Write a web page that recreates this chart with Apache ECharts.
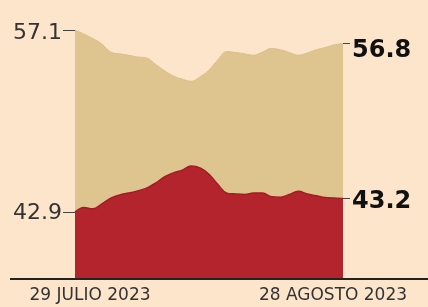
<!DOCTYPE html>
<html><head><meta charset="utf-8">
<script src="https://cdn.jsdelivr.net/npm/echarts@6/dist/echarts.min.js"></script>
<style>html,body{margin:0;padding:0;background:#fde5cc}#c{width:428px;height:307px}</style>
</head><body><div id="c"></div>
<script>
const dates = ['2023-07-29','2023-07-30','2023-07-31','2023-08-01','2023-08-02','2023-08-03','2023-08-04','2023-08-05','2023-08-06','2023-08-07','2023-08-08','2023-08-09','2023-08-10','2023-08-11','2023-08-12','2023-08-13','2023-08-14','2023-08-15','2023-08-16','2023-08-17','2023-08-18','2023-08-19','2023-08-20','2023-08-21','2023-08-22','2023-08-23','2023-08-24','2023-08-25','2023-08-26','2023-08-27','2023-08-28'];
const tanValues = [57.10,57.01,56.91,56.79,56.61,56.57,56.54,56.50,56.48,56.34,56.20,56.08,56.01,55.96,56.06,56.21,56.44,56.62,56.60,56.57,56.54,56.61,56.69,56.66,56.60,56.54,56.59,56.66,56.71,56.77,56.80];
const redValues = [42.90,43.00,42.97,43.08,43.21,43.28,43.32,43.37,43.43,43.54,43.68,43.77,43.83,43.92,43.88,43.74,43.51,43.32,43.30,43.29,43.32,43.32,43.24,43.23,43.29,43.36,43.30,43.26,43.22,43.21,43.20];
const xLabels = ['29 JULIO 2023', '28 AGOSTO 2023'];
const tanStart = 57.1, tanEnd = 56.8, redStart = 42.9, redEnd = 43.2;

const TAN_MAX = 57.322, TAN_MIN = 51.567;
const RED_MIN = 41.411, RED_MAX = 47.167;
const FONT = 'DejaVu Sans';

const chart = echarts.init(document.getElementById('c'), null, {renderer: 'canvas'});
function yAx(pos, min, max, val, bold, padTop) {
  return {
    type: 'value', position: pos, min: min, max: max,
    axisLine: {show: false}, splitLine: {show: false},
    axisTick: {show: true, customValues: [val], length: bold ? 7 : 12, lineStyle: {color: '#444', width: 1}},
    axisLabel: {show: true, customValues: [val], formatter: v => '{v|' + v.toFixed(1) + '}', margin: bold ? 9 : 13,
      rich: {v: {fontFamily: FONT, fontSize: bold ? 24 : 22, fontWeight: bold ? 'bold' : 'normal',
        color: bold ? '#111' : '#333', padding: [padTop, 0, 0, 0]}}}
  };
}
chart.setOption({
  backgroundColor: '#fde5cc',
  animation: false,
  grid: {left: 75, right: 85, top: 20, bottom: 28},
  xAxis: {
    type: 'category', data: dates, boundaryGap: false,
    axisLine: {show: false}, axisTick: {show: false},
    axisLabel: {
      interval: (i) => i === 0 || i === dates.length - 1,
      margin: 8,
      formatter: (v, i) => i === 0 ? '{a|' + xLabels[0] + '}' : '{b|' + xLabels[1] + '}',
      rich: {
        a: {fontFamily: FONT, fontSize: 17, color: '#333', padding: [0, 0, 0, 30]},
        b: {fontFamily: FONT, fontSize: 17, color: '#333', padding: [0, 20, 0, 0]}
      }
    }
  },
  yAxis: [
    yAx('left', TAN_MIN, TAN_MAX, tanStart, false, 6),
    yAx('left', RED_MIN, RED_MAX, redStart, false, 3),
    yAx('right', TAN_MIN, TAN_MAX, tanEnd, true, 14),
    yAx('right', RED_MIN, RED_MAX, redEnd, true, 6)
  ],
  series: [
    {type: 'line', yAxisIndex: 0, data: tanValues, symbol: 'none', smooth: 0.4,
      lineStyle: {color: '#dcc18b', width: 1}, areaStyle: {color: '#dec48f', origin: 'start', opacity: 1}, z: 2},
    {type: 'line', yAxisIndex: 1, data: redValues, symbol: 'none', smooth: 0.4,
      lineStyle: {color: '#a01d26', width: 1.5}, areaStyle: {color: '#b3242c', origin: 'start', opacity: 1}, z: 3}
  ],
  graphic: [
    {type: 'line', shape: {x1: 10, y1: 279, x2: 428, y2: 279}, style: {stroke: '#222', lineWidth: 2}, z: 10}
  ]
});
</script></body></html>
